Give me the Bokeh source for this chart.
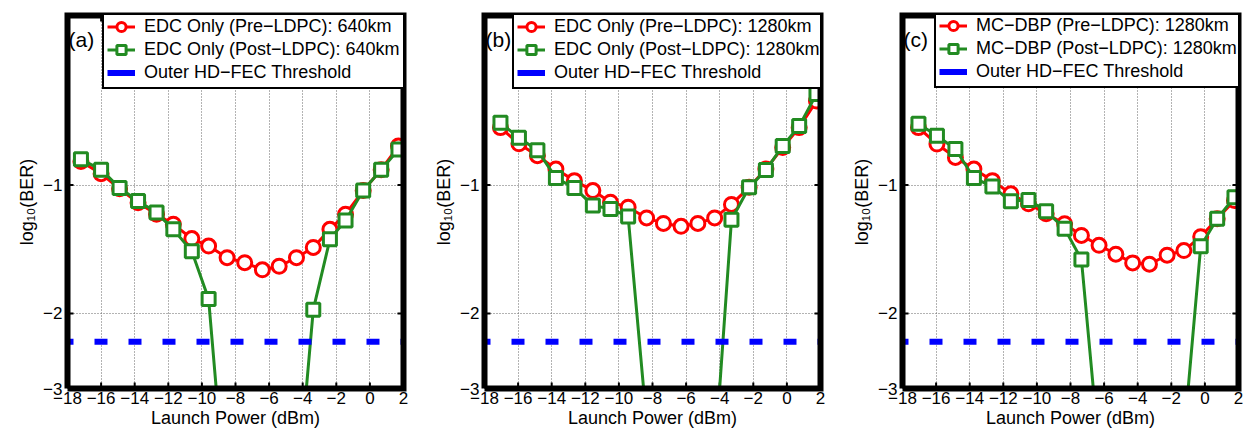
import numpy as np
from bokeh.plotting import figure
from bokeh.models import (Range1d, FixedTicker, CustomJSTickFormatter, Span, Legend,
                          LegendItem, Label, ColumnDataSource)
from bokeh.layouts import row
from bokeh.embed import file_html
from bokeh.resources import INLINE

NaN = float("nan")

# ---------------- data (log10 BER vs launch power in dBm) ----------------
launch_power_a = [-17.2, -16.0, -14.9, -13.8, -12.7, -11.7, -10.6, -9.6, -8.5, -7.45,
                  -6.4, -5.4, -4.37, -3.37, -2.38, -1.45, -0.4, 0.67, 1.7]
launch_power_bc = [-17.05, -15.95, -14.85, -13.75, -12.65, -11.55, -10.5, -9.45, -8.35, -7.35,
                   -6.3, -5.3, -4.3, -3.3, -2.25, -1.25, -0.25, 0.73, 1.76]

edc_640_pre = [-0.88, -0.94, -1.02, -1.10, -1.17, -1.235, -1.335, -1.39, -1.48, -1.52,
               -1.58, -1.55, -1.48, -1.40, -1.27, -1.17, -1.03, -0.92, -0.81]
edc_640_post = [-0.87, -0.92, -1.015, -1.09, -1.16, -1.27, -1.43, -1.85, -6.0, NaN,
                NaN, NaN, -5.5, -1.96, -1.34, -1.21, -1.03, -0.92, -0.825]

edc_1280_pre = [-0.733, -0.80, -0.853, -0.917, -0.976, -1.03, -1.097, -1.127, -1.194, -1.23,
                -1.249, -1.23, -1.194, -1.11, -1.012, -0.917, -0.816, -0.733, -0.635]
edc_1280_post = [-0.714, -0.774, -0.828, -0.962, -1.015, -1.116, -1.137, -1.184, -3.6, NaN,
                 NaN, NaN, -4.4, -1.206, -1.012, -0.922, -0.809, -0.727, -0.611]

dbp_1280_pre = [-0.733, -0.801, -0.861, -0.917, -0.976, -1.048, -1.106, -1.167, -1.232, -1.312,
                -1.384, -1.452, -1.522, -1.533, -1.46, -1.424, -1.321, -1.199, -1.087]
dbp_1280_post = [-0.718, -0.766, -0.823, -0.962, -1.008, -1.091, -1.083, -1.151, -1.265, -1.494,
                 -4.2, NaN, NaN, NaN, NaN, -3.9, -1.392, -1.199, -1.068]

hd_fec_threshold = -2.33          # log10(4.7e-3)

x_ticks = [-18, -16, -14, -12, -10, -8, -6, -4, -2, 0, 2]
y_ticks = [-1, -2, -3]
panel_tags = ["(a)", "(b)", "(c)"]
pre_labels = ["EDC Only (Pre\u2212LDPC): 640km", "EDC Only (Pre\u2212LDPC): 1280km",
              "MC\u2212DBP (Pre\u2212LDPC): 1280km"]
post_labels = ["EDC Only (Post\u2212LDPC): 640km", "EDC Only (Post\u2212LDPC): 1280km",
               "MC\u2212DBP (Post\u2212LDPC): 1280km"]
threshold_label = "Outer HD\u2212FEC Threshold"
x_label = "Launch Power (dBm)"
y_label = "log\u2081\u2080(BER)"

FONT = "Liberation Sans"
RED = "#FF0000"
GREEN = "#228B22"
BLUE = "#0000FF"

Y_TOP, Y_BOTTOM = 0.4, 3.0       # -log10(BER) shown on a log scale, reversed


def style_axis(ax):
    ax.axis_line_color = None
    ax.major_tick_line_color = None
    ax.minor_tick_line_color = None
    ax.major_tick_in = 0
    ax.major_tick_out = 0
    ax.major_label_text_font = FONT
    ax.major_label_text_color = "black"
    ax.major_label_text_font_size = "17px"
    ax.axis_label_text_font = FONT
    ax.axis_label_text_font_size = "18px"
    ax.axis_label_text_font_style = "normal"
    ax.axis_label_text_color = "black"


def panel(tag, xs, pre, post, pre_label, post_label, width, border_left, border_right,
          legend_xy):
    p = figure(width=width, height=430, x_range=Range1d(x_ticks[0], x_ticks[-1]),
               y_range=Range1d(Y_BOTTOM, Y_TOP),
               y_axis_type="log", output_backend="svg", toolbar_location=None,
               min_border_left=border_left, min_border_right=border_right,
               min_border_top=15, min_border_bottom=42,
               background_fill_color=None, border_fill_color=None)
    p.outline_line_color = None

    # axes: tick labels and titles
    p.xaxis.ticker = FixedTicker(ticks=x_ticks)
    p.xaxis.formatter = CustomJSTickFormatter(
        code="return tick < 0 ? '\\u2212' + Math.abs(tick) : tick.toString();")
    p.yaxis.ticker = FixedTicker(ticks=[-t for t in y_ticks])
    p.yaxis.formatter = CustomJSTickFormatter(code="return '\\u2212' + Math.round(tick);")
    style_axis(p.xaxis[0])
    style_axis(p.yaxis[0])
    p.xaxis.major_label_standoff = 3
    p.xaxis.axis_label = x_label
    p.xaxis.axis_label_standoff = 1
    p.yaxis.major_label_standoff = 5
    p.yaxis.axis_label = y_label
    p.yaxis.axis_label_standoff = 3

    # grid
    p.xgrid.ticker = FixedTicker(ticks=x_ticks)
    p.ygrid.ticker = FixedTicker(ticks=[-t for t in y_ticks[:-1]])
    for g in (p.xgrid[0], p.ygrid[0]):
        g.grid_line_color = "#666666"
        g.grid_line_dash = "1 2"
        g.grid_line_width = 1

    # inward tick marks on all four sides of the box
    n = len(x_ticks)
    p.scatter(x=x_ticks + x_ticks, y=[Y_BOTTOM] * n + [Y_TOP] * n, marker="dash",
              angle=np.pi / 2, size=12, line_color="black", line_width=2)
    yt = [-t for t in y_ticks]
    p.scatter(x=[x_ticks[0]] * len(yt) + [x_ticks[-1]] * len(yt), y=yt + yt,
              marker="dash", size=12, line_color="black", line_width=2)

    src = ColumnDataSource(dict(x=np.array(xs, dtype=float),
                                pre=-np.array(pre, dtype=float),
                                post=-np.array(post, dtype=float)))

    red_line = p.line("x", "pre", source=src, line_color=RED, line_width=3)
    red_pts = p.scatter("x", "pre", source=src, marker="circle", size=14,
                        line_color=RED, line_width=3, fill_color="white")
    green_line = p.line("x", "post", source=src, line_color=GREEN, line_width=3)
    green_pts = p.scatter("x", "post", source=src, marker="square", size=13,
                          line_color=GREEN, line_width=3, fill_color="white")

    thr = Span(location=-hd_fec_threshold, dimension="width", line_color=BLUE,
               line_width=6, line_dash="13 21", line_dash_offset=7)
    p.add_layout(thr)
    # legend-only proxy for the threshold (solid bar in the legend)
    thr_legend = p.line(x=[NaN], y=[NaN], line_color=BLUE, line_width=6)

    p.add_layout(Label(x=x_ticks[0], y=0.456, x_offset=1, text=tag, text_font=FONT,
                       text_font_size="21px", text_baseline="middle", text_align="left",
                       text_color="black"))

    legend = Legend(items=[
        LegendItem(label=pre_label, renderers=[red_line, red_pts]),
        LegendItem(label=post_label, renderers=[green_line, green_pts]),
        LegendItem(label=threshold_label, renderers=[thr_legend]),
    ], location=legend_xy)
    legend.label_text_font = FONT
    legend.label_text_font_size = "18px"
    legend.label_text_color = "black"
    legend.glyph_width = 28
    legend.glyph_height = 23
    legend.label_height = 23
    legend.label_standoff = 9
    legend.spacing = 0
    legend.padding = 3
    legend.margin = 0
    legend.border_line_color = "black"
    legend.border_line_width = 2.5
    legend.border_line_alpha = 1
    legend.background_fill_color = "white"
    legend.background_fill_alpha = 1
    p.add_layout(legend)

    # axes box (drawn over everything, clipped to the frame)
    box_x = [x_ticks[0], x_ticks[-1], x_ticks[-1], x_ticks[0], x_ticks[0]]
    box_y = [Y_BOTTOM, Y_BOTTOM, Y_TOP, Y_TOP, Y_BOTTOM]
    p.line(box_x, box_y, line_color="black", line_width=6, line_join="miter",
           level="overlay")
    return p


p1 = panel(panel_tags[0], launch_power_a, edc_640_pre, edc_640_post,
           pre_labels[0], post_labels[0], 425, 67, 22, (35, 299))
p2 = panel(panel_tags[1], launch_power_bc, edc_1280_pre, edc_1280_post,
           pre_labels[1], post_labels[1], 418, 59, 23, (28, 299))
p3 = panel(panel_tags[2], launch_power_bc, dbp_1280_pre, dbp_1280_post,
           pre_labels[2], post_labels[2], 407, 59, 12, (32, 300))

layout = row(p1, p2, p3)
open("out.html", "w").write(file_html(layout, INLINE))
